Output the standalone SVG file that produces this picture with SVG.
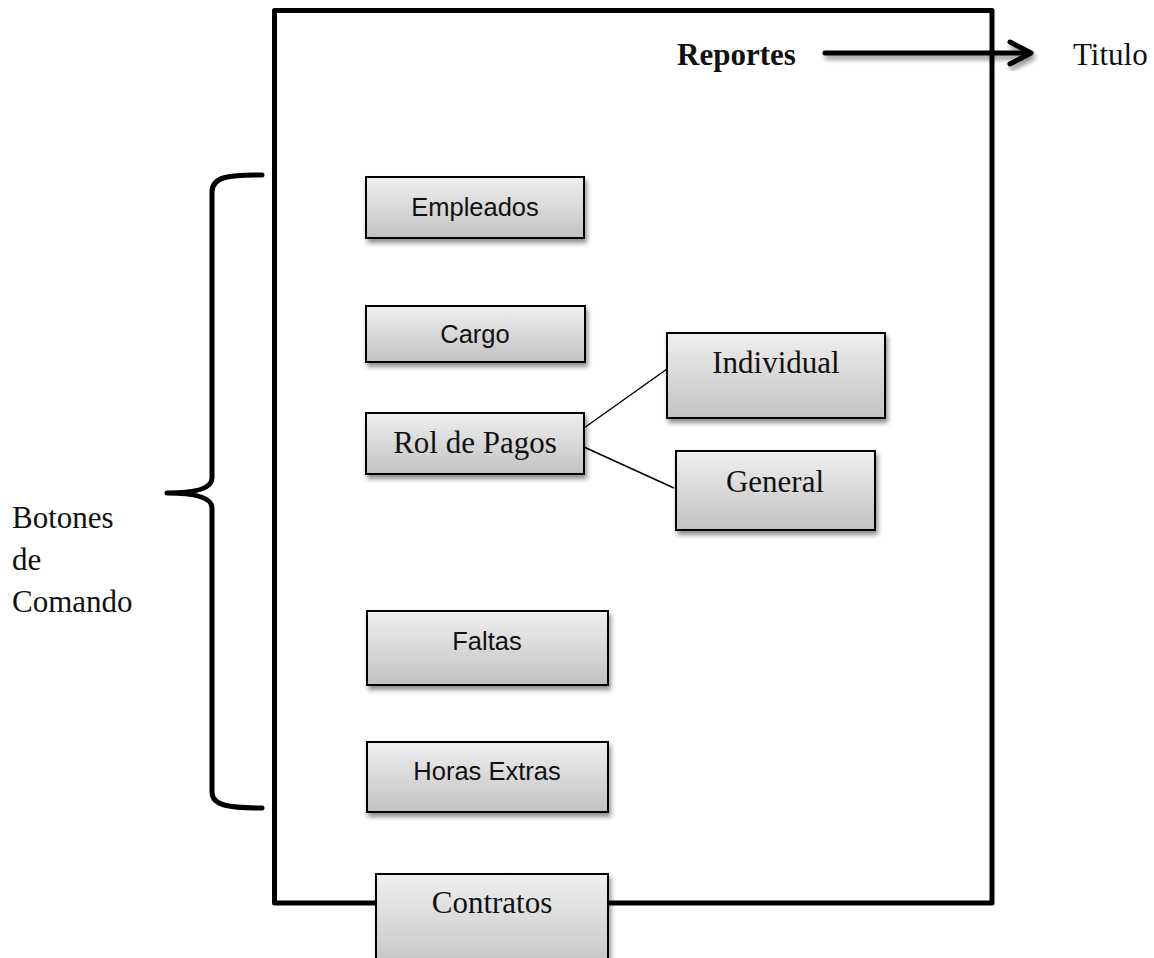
<svg xmlns="http://www.w3.org/2000/svg" width="1154" height="958" viewBox="0 0 1154 958">
<defs>
<linearGradient id="g" x1="0" y1="0" x2="0" y2="1">
<stop offset="0" stop-color="#efefef"/>
<stop offset="1" stop-color="#c2c2c2"/>
</linearGradient>
<filter id="sh" x="-10%" y="-10%" width="125%" height="140%">
<feGaussianBlur in="SourceAlpha" stdDeviation="2.5"/>
<feOffset dx="2" dy="4" result="b"/>
<feComponentTransfer><feFuncA type="linear" slope="0.45"/></feComponentTransfer>
<feMerge><feMergeNode/><feMergeNode in="SourceGraphic"/></feMerge>
</filter>
</defs>
<style>
.box{fill:url(#g);stroke:#000;stroke-width:2;filter:url(#sh)}
.sans{font-family:"Liberation Sans",Arial,sans-serif;font-size:25.5px;fill:#111;text-anchor:middle}
.serif{font-family:"Liberation Serif","Times New Roman",serif;font-size:31px;fill:#111}
.mid{text-anchor:middle}
.thick{fill:none;stroke:#000;stroke-width:5;stroke-linecap:round;stroke-linejoin:round}
.thin{fill:none;stroke:#000;stroke-width:1.5}
</style>
<rect width="1154" height="958" fill="#fff"/>
<g id="frame">
<rect x="274.5" y="10.5" width="717.5" height="892.5" class="thick" stroke-linecap="butt"/>
</g>
<g id="connectors">
<line x1="584" y1="428" x2="667" y2="369" class="thin"/>
<line x1="584" y1="447" x2="674" y2="488" class="thin"/>
<g filter="url(#sh)">
<line x1="825" y1="53" x2="1030" y2="53" class="thick"/>
<polyline points="1010,42 1031,53 1010,64" class="thick"/>
</g>
<path d="M262,175 C230,175 212,176 212,192 L212,478 C212,490 190,493 167,493 C190,493 212,496 212,508 L212,792 C212,806 230,808 262,808" class="thick" stroke-linecap="butt"/>
</g>
<g id="titulo-reportes"><text x="677" y="65" class="serif" font-weight="bold">Reportes</text></g>
<g id="titulo"><text x="1073" y="65" class="serif">Titulo</text></g>
<g id="botones-label">
<text x="12" y="528" class="serif">Botones</text>
<text x="12" y="570" class="serif">de</text>
<text x="12" y="612" class="serif">Comando</text>
</g>
<g id="empleados"><rect x="366" y="177" width="218" height="61" class="box"/><text x="475" y="216" class="sans">Empleados</text></g>
<g id="cargo"><rect x="366" y="306" width="219" height="56" class="box"/><text x="475" y="343" class="sans">Cargo</text></g>
<g id="rol-de-pagos"><rect x="366" y="413" width="218" height="61" class="box"/><text x="475" y="453" class="serif mid">Rol de Pagos</text></g>
<g id="individual"><rect x="667" y="333" width="218" height="85" class="box"/><text x="776" y="373" class="serif mid">Individual</text></g>
<g id="general"><rect x="676" y="451" width="199" height="79" class="box"/><text x="775" y="492" class="serif mid">General</text></g>
<g id="faltas"><rect x="367" y="611" width="241" height="74" class="box"/><text x="487" y="650" class="sans">Faltas</text></g>
<g id="horas-extras"><rect x="367" y="742" width="241" height="70" class="box"/><text x="487" y="780" class="sans">Horas Extras</text></g>
<g id="contratos"><rect x="376" y="874" width="232" height="100" class="box"/><text x="492" y="913" class="serif mid">Contratos</text></g>
</svg>
